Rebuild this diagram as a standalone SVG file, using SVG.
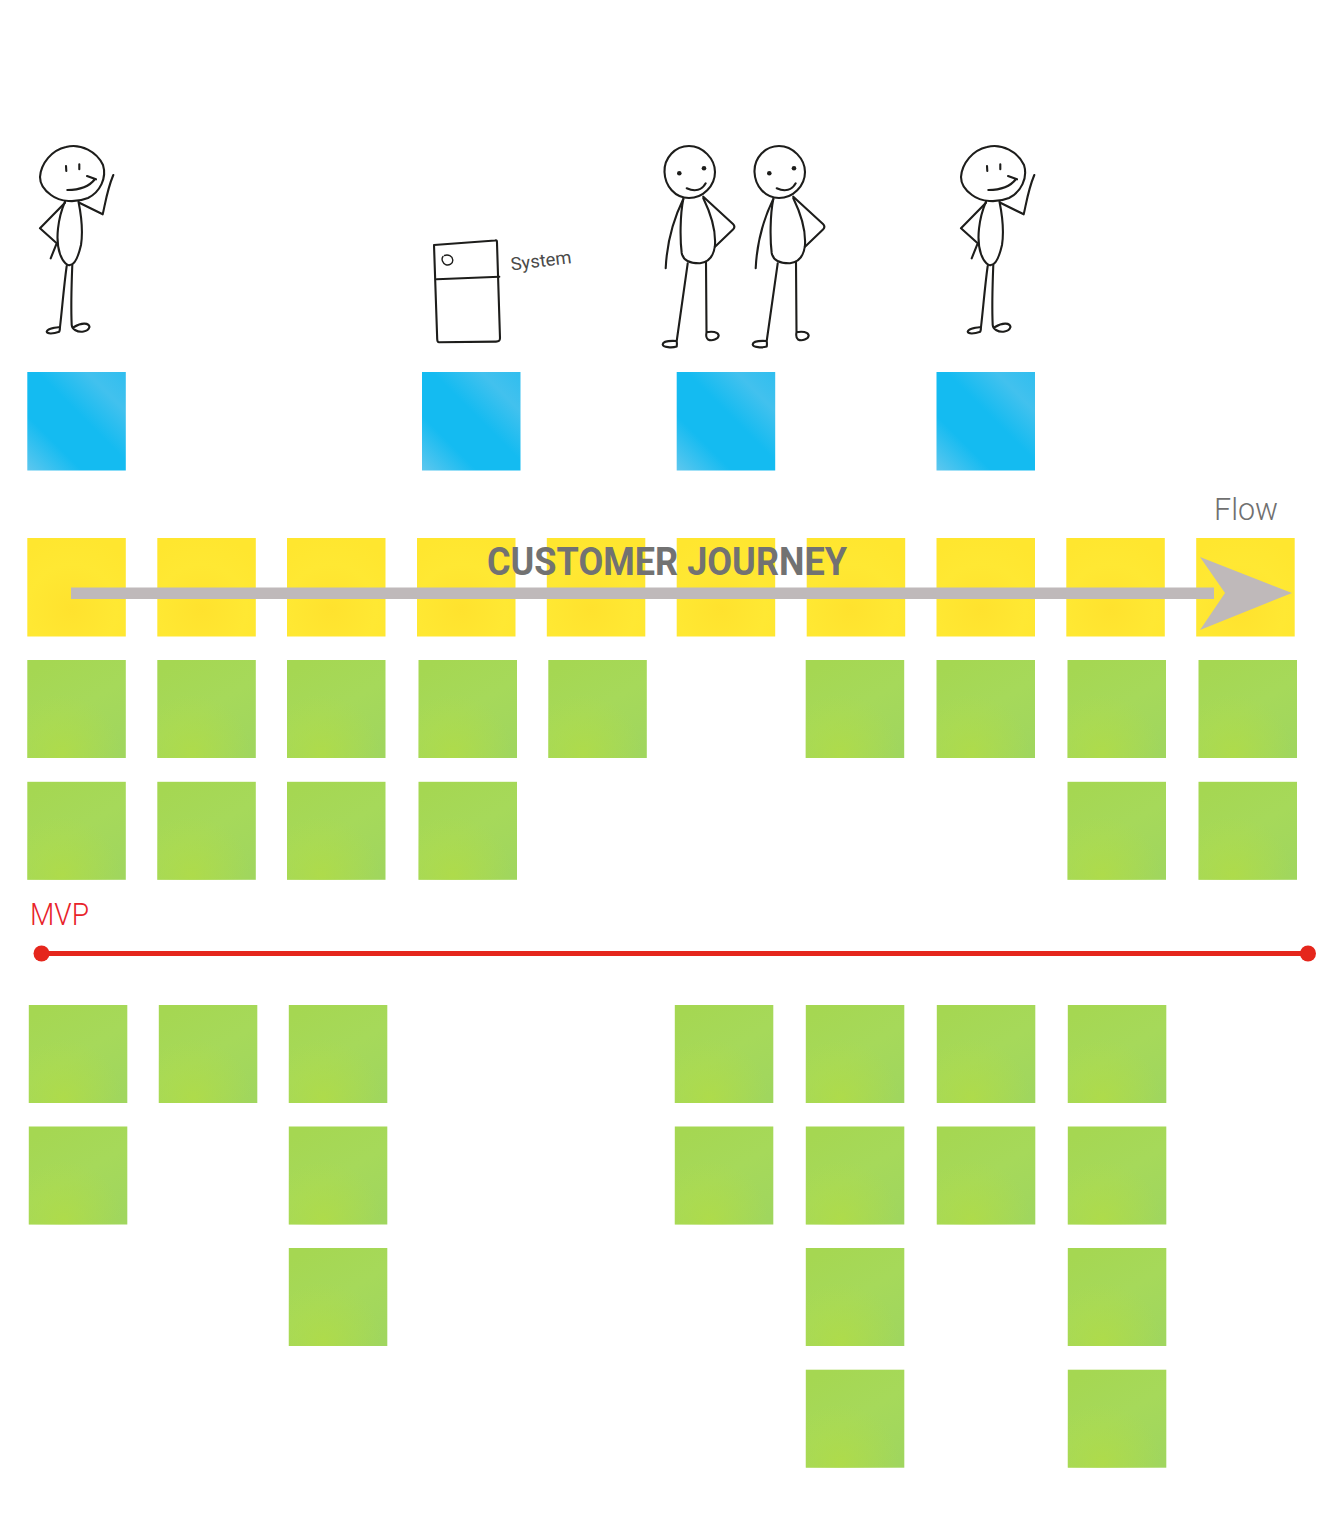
<svg xmlns="http://www.w3.org/2000/svg" width="1333" height="1535" viewBox="0 0 1333 1535">
<style>
.ink{fill:none;stroke:#1d1d1b;stroke-width:2.100;stroke-linecap:round;stroke-linejoin:round}
.dot{fill:#1d1d1b}
text{font-family:"Roboto","Liberation Sans",sans-serif}
.title{font-size:38px;font-weight:700;fill:#727272}
.flow{font-size:32px;font-weight:300;fill:#707070}
.mvp{font-size:32px;font-weight:300;fill:#e8232a}
.sys{font-size:18px;font-weight:400;fill:#4a4a4a}
</style>
<defs>
<linearGradient id="gb" x1="0" y1="1" x2="1" y2="0"><stop offset="0" stop-color="#5ec7ee"/><stop offset=".28" stop-color="#14bbf1"/><stop offset=".55" stop-color="#14bbf1"/><stop offset=".8" stop-color="#42c1ee"/><stop offset="1" stop-color="#30beef"/></linearGradient>
<radialGradient id="gy" cx=".45" cy=".72" r=".75"><stop offset="0" stop-color="#ffe22e"/><stop offset=".6" stop-color="#ffe833"/><stop offset="1" stop-color="#ffe62f"/></radialGradient>
<linearGradient id="gg" x1=".8" y1="1" x2=".2" y2="0"><stop offset="0" stop-color="#a0d65e"/><stop offset=".5" stop-color="#a6d95a"/><stop offset="1" stop-color="#a5d752"/></linearGradient>
<radialGradient id="gg2" cx=".35" cy=".95" r=".6"><stop offset="0" stop-color="#b0dc48" stop-opacity=".85"/><stop offset="1" stop-color="#b0dc48" stop-opacity="0"/></radialGradient>
<rect id="blue" width="98.500" height="98.500" fill="url(#gb)"/>
<rect id="yellow" width="98.500" height="98.500" fill="url(#gy)"/>
<g id="green"><rect width="98.500" height="98" fill="url(#gg)"/><rect width="98.500" height="98" fill="url(#gg2)"/></g>
<g id="manA">
<path class="ink" d="M40 177C41 163 52 150 66 147C81 143 97 152 103 165C107 178 100 192 88 198C76 203 60 202 51 195C44 190 40 184 40 177Z"/>
<path class="ink" d="M66 166L66.300 171M79.300 164.300V169.300M67.300 190C80 190 89 187 95 179M87 176L96 179.300"/>
<path class="ink" d="M65 201.700C58 218 55 240 60 254C63 263 68 266 70 265C74 265 78 258 81 245C83 232 81 214 78.500 201.700"/>
<path class="ink" d="M65 202.700L40 228.300L56.700 243.300L50.700 258.300M79.300 202.700L102.700 214.300C105 205 107 190 113.300 175"/>
<path class="ink" d="M66.700 266C64 285 62 310 60 327C52 328 47 329 46.700 331.700C47 334 53 334 59.300 331.700C60 330 60 328 60 327M72.300 265C71.500 285 71 310 71.700 325C72 328 73 329 75 330C80 333 88 332 89.500 327C89 323 82 322 74 327"/>
</g>
<g id="manB">
<path class="ink" d="M664.500 172C664 158 675 146 689 146C703 146 715 159 715 172C715 186 703 198 689 198C675 198 665 186 664.500 172Z"/>
<circle class="dot" cx="679.300" cy="173.300" r="2.300"/><circle class="dot" cx="704" cy="168.300" r="2.300"/>
<path class="ink" d="M686.700 188.300C695 192 702 190 705.700 183.300"/>
<path class="ink" d="M683.300 199C680 215 680 240 681.700 253C683 260 688 263.500 700 263.300C710 262 714 255 715 245C716 228 710 212 703.300 198.300"/>
<path class="ink" d="M683.300 199C674 218 667 240 665.700 268.300M703.300 196.700L733 224C735 226 734.500 228 733 229.500L715 246.700"/>
<path class="ink" d="M687.700 263.300L676.700 341C668 340.500 663 341.500 662.700 344.300C663 347.500 672 348 676.700 346.500C677 345 677 343 676.700 341M706 261.700L706.500 332.300C712 331 718 332 718.700 335.500C718.500 339 712 341.500 708 339.500C706 338 706 335 706.500 332.300"/>
</g>
</defs>

<g id="actor-1"><use href="#manA"/></g>
<g id="system">
<path class="ink" d="M434 245L495 240.500C497 240 497 241 497 243L500 338C500 341 499 341.500 496 341.600L439 342.300C437.500 342.300 437.300 341 437.200 339L434 245Z"/>
<path class="ink" d="M436.700 279.300L499.300 276.700"/>
<path class="ink" style="stroke-width:1.400" d="M444.500 255.500C448 254 452.500 256 452.800 260C453 264 449 265.500 446 264.800C442.500 263.500 441 259 443 256.500"/>
<text class="sys" transform="translate(511.500 270.500) rotate(-7)" textLength="61" lengthAdjust="spacingAndGlyphs">System</text>
</g>
<g id="actor-2"><use href="#manB"/></g>
<g id="actor-3"><use href="#manB" x="90"/></g>
<g id="actor-4"><use href="#manA" x="921"/></g>

<g id="roles">
<g id="role-1"><use href="#blue" x="27.300" y="372"/></g>
<g id="role-2"><use href="#blue" x="422" y="372"/></g>
<g id="role-3"><use href="#blue" x="676.700" y="372"/></g>
<g id="role-4"><use href="#blue" x="936.500" y="372"/></g>
</g>

<g id="journey">
<g id="step-1"><use href="#yellow" x="27.300" y="538"/></g>
<g id="step-2"><use href="#yellow" x="157.300" y="538"/></g>
<g id="step-3"><use href="#yellow" x="287" y="538"/></g>
<g id="step-4"><use href="#yellow" x="417" y="538"/></g>
<g id="step-5"><use href="#yellow" x="546.800" y="538"/></g>
<g id="step-6"><use href="#yellow" x="676.700" y="538"/></g>
<g id="step-7"><use href="#yellow" x="806.700" y="538"/></g>
<g id="step-8"><use href="#yellow" x="936.500" y="538"/></g>
<g id="step-9"><use href="#yellow" x="1066.300" y="538"/></g>
<g id="step-10"><use href="#yellow" x="1196.200" y="538"/></g>
</g>

<g id="mvp-stories">
<g id="s1"><use href="#green" x="27.300" y="660"/></g>
<g id="s2"><use href="#green" x="157.300" y="660"/></g>
<g id="s3"><use href="#green" x="287" y="660"/></g>
<g id="s4"><use href="#green" x="418.500" y="660"/></g>
<g id="s5"><use href="#green" x="548.300" y="660"/></g>
<g id="s6"><use href="#green" x="805.700" y="660"/></g>
<g id="s7"><use href="#green" x="936.500" y="660"/></g>
<g id="s8"><use href="#green" x="1067.500" y="660"/></g>
<g id="s9"><use href="#green" x="1198.500" y="660"/></g>
<g id="s10"><use href="#green" x="27.300" y="781.800"/></g>
<g id="s11"><use href="#green" x="157.300" y="781.800"/></g>
<g id="s12"><use href="#green" x="287" y="781.800"/></g>
<g id="s13"><use href="#green" x="418.500" y="781.800"/></g>
<g id="s14"><use href="#green" x="1067.500" y="781.800"/></g>
<g id="s15"><use href="#green" x="1198.500" y="781.800"/></g>
</g>

<g id="later-stories">
<g id="l1"><use href="#green" x="28.800" y="1005"/></g>
<g id="l2"><use href="#green" x="158.800" y="1005"/></g>
<g id="l3"><use href="#green" x="288.800" y="1005"/></g>
<g id="l4"><use href="#green" x="674.800" y="1005"/></g>
<g id="l5"><use href="#green" x="805.800" y="1005"/></g>
<g id="l6"><use href="#green" x="936.800" y="1005"/></g>
<g id="l7"><use href="#green" x="1067.800" y="1005"/></g>
<g id="l8"><use href="#green" x="28.800" y="1126.500"/></g>
<g id="l9"><use href="#green" x="288.800" y="1126.500"/></g>
<g id="l10"><use href="#green" x="674.800" y="1126.500"/></g>
<g id="l11"><use href="#green" x="805.800" y="1126.500"/></g>
<g id="l12"><use href="#green" x="936.800" y="1126.500"/></g>
<g id="l13"><use href="#green" x="1067.800" y="1126.500"/></g>
<g id="l14"><use href="#green" x="288.800" y="1248"/></g>
<g id="l15"><use href="#green" x="805.800" y="1248"/></g>
<g id="l16"><use href="#green" x="1067.800" y="1248"/></g>
<g id="l17"><use href="#green" x="805.800" y="1369.700"/></g>
<g id="l18"><use href="#green" x="1067.800" y="1369.700"/></g>
</g>

<g id="connectors">
<g id="flow-arrow" fill="#bfb9ba"><rect x="71" y="587.500" width="1143" height="11.500"/><path d="M1200 557L1292 593L1200 630L1225 593Z"/></g>
<g id="mvp-line"><line x1="41.500" y1="953.500" x2="1308" y2="953.500" stroke="#e5261c" stroke-width="5"/><circle cx="41.500" cy="953.500" r="8" fill="#e5261c"/><circle cx="1308" cy="953.500" r="8" fill="#e5261c"/></g>
</g>

<text class="title" x="487" y="575" textLength="360" lengthAdjust="spacingAndGlyphs">CUSTOMER JOURNEY</text>
<text class="flow" x="1214" y="520" textLength="64" lengthAdjust="spacingAndGlyphs">Flow</text>
<text class="mvp" x="30" y="925" textLength="59" lengthAdjust="spacingAndGlyphs">MVP</text>
</svg>
